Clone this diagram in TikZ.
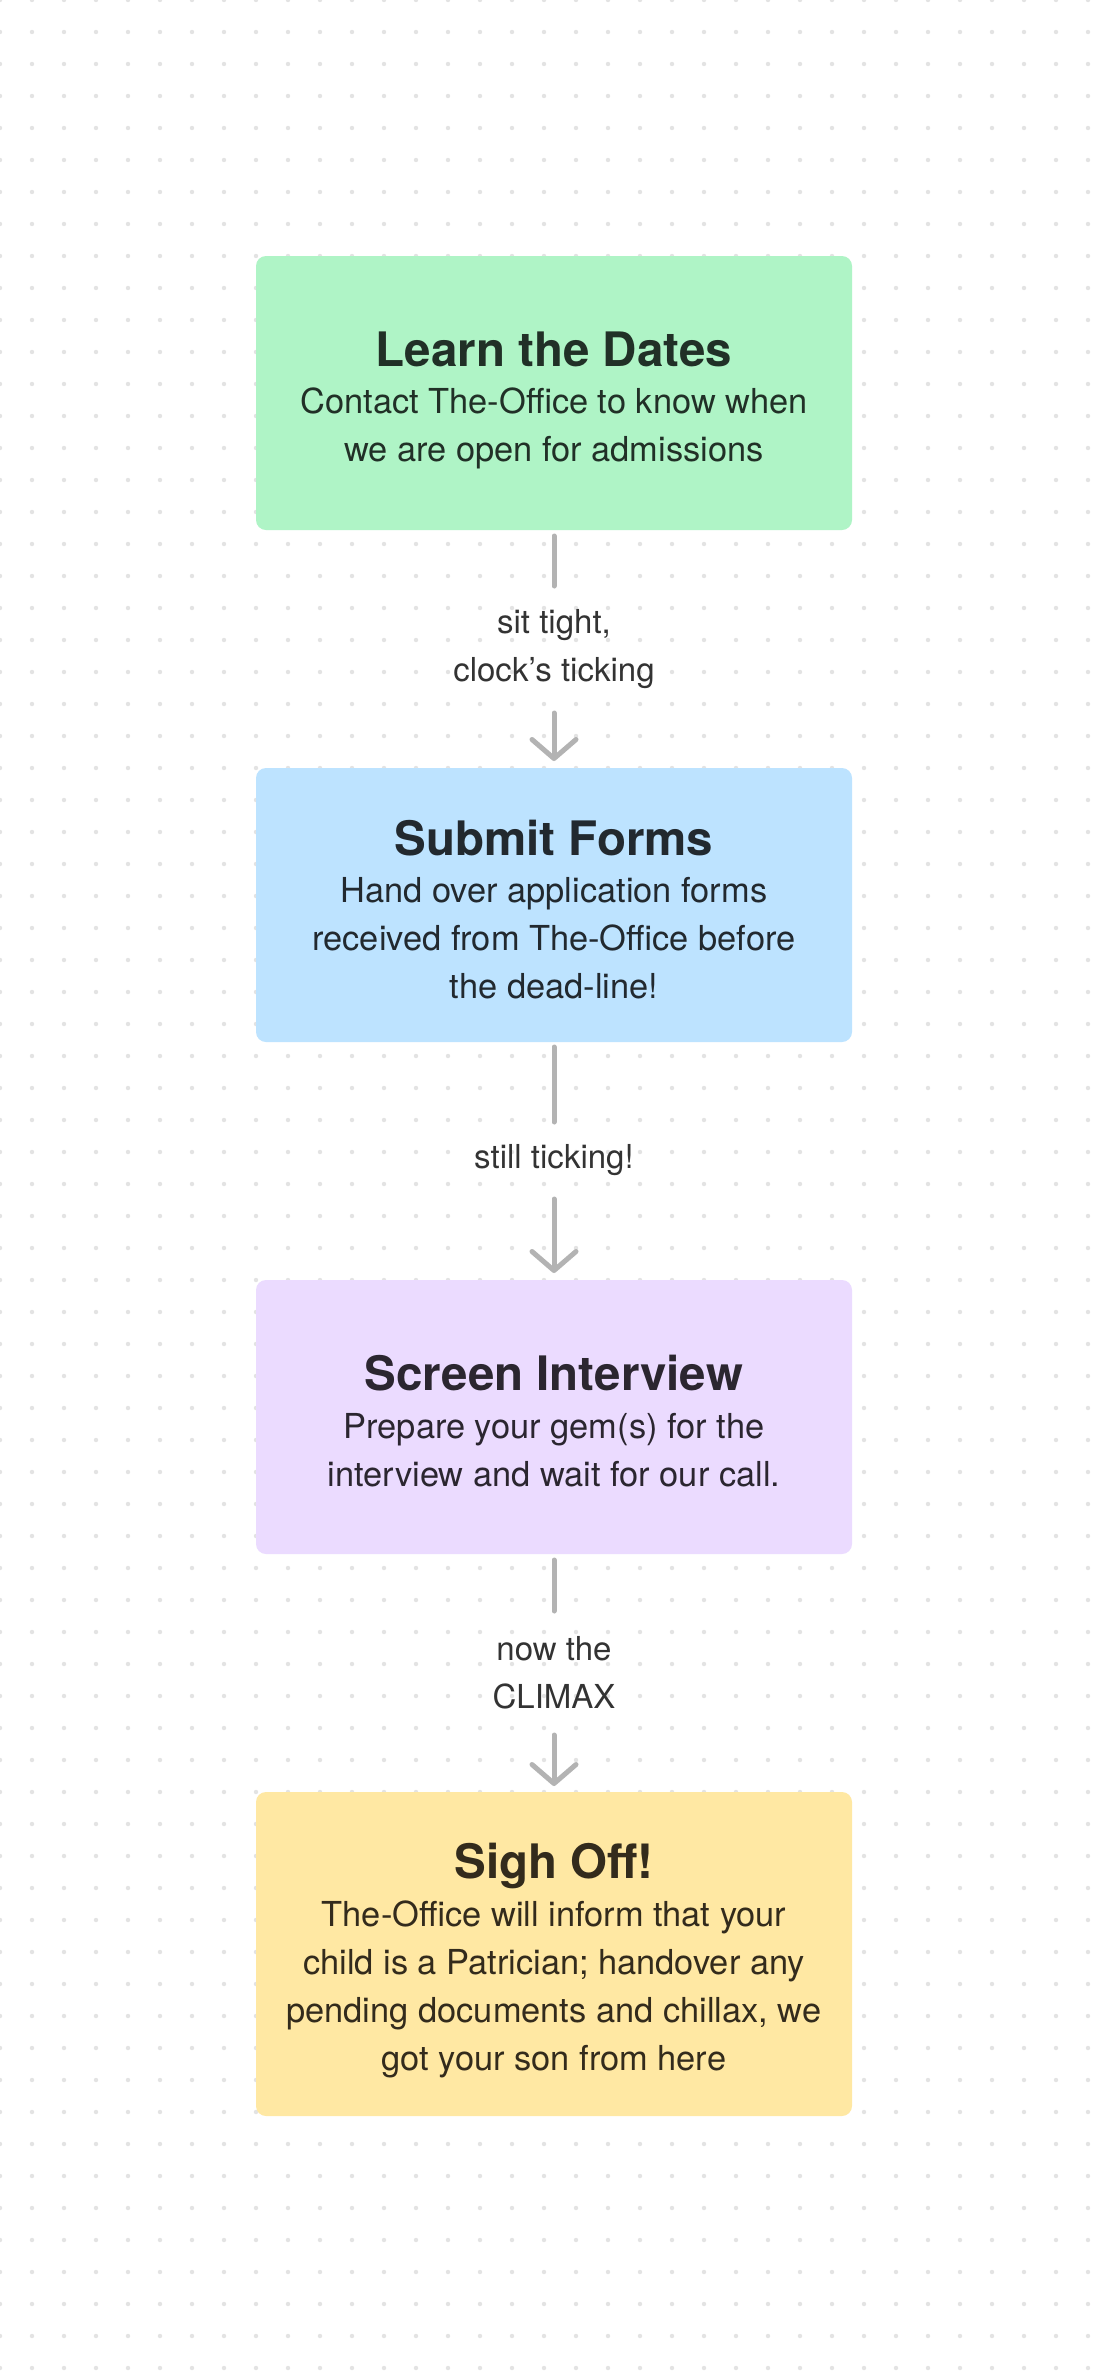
\documentclass[tikz,border=0pt]{standalone}
\usepackage{fontspec}
\setmainfont{TeX Gyre Heros}
\usetikzlibrary{arrows.meta}
\definecolor{dotc}{HTML}{E3E3E3}
\definecolor{greenbox}{HTML}{AFF4C6}
\definecolor{bluebox}{HTML}{BDE3FF}
\definecolor{purplebox}{HTML}{EBDBFF}
\definecolor{yellowbox}{HTML}{FFE8A3}
\definecolor{greentxt}{HTML}{213027}
\definecolor{bluetxt}{HTML}{22292F}
\definecolor{purpletxt}{HTML}{2B2630}
\definecolor{yellowtxt}{HTML}{332B1C}
\definecolor{labtxt}{HTML}{333333}
\definecolor{conncol}{HTML}{B3B3B3}
\begin{document}
\begin{tikzpicture}[x=1pt,y=-1pt,
  box/.style={rectangle, rounded corners=10pt, draw=none, inner sep=0pt, outer sep=0pt,
    minimum width=596pt},
  ttl/.style={anchor=base, inner sep=0pt, font=\fontsize{47.5}{54}\selectfont\bfseries},
  bodytxt/.style={anchor=base, inner sep=0pt, align=center, font=\fontsize{34.4}{48}\selectfont},
  lab/.style={inner sep=0pt, outer sep=0pt, align=center, text=labtxt,
    font=\fontsize{33}{48}\selectfont},
  conn/.style={draw=conncol, line width=5pt, line cap=round},
  tipped/.style={conn, -{Straight Barb[length=19pt, width=44pt, round]}}
]
\useasboundingbox (0,0) rectangle (1108,2372);
\fill[white] (0,0) rectangle (1108,2372);
\foreach \i in {0,...,34} {
  \foreach \j in {0,...,74} {
    \fill[dotc] (\i*32,\j*32) circle (2.2pt);
  }
}
% boxes
\node[box, fill=greenbox,  minimum height=274pt] (b1) at (554,393) {};
\node[box, fill=bluebox,   minimum height=274pt] (b2) at (554,905) {};
\node[box, fill=purplebox, minimum height=274pt] (b3) at (554,1417) {};
\node[box, fill=yellowbox, minimum height=324pt] (b4) at (554,1954) {};
% texts (body nodes anchored at the baseline of their last line)
\node[ttl, text=greentxt] (t1) at (554,366.7) {Learn the Dates};
\node[bodytxt, text=greentxt] (d1) at (554,461.7) {Contact The-Office to know when\\we are open for admissions};
\node[ttl, text=bluetxt] (t2) at (554,855) {Submit Forms};
\node[bodytxt, text=bluetxt] (d2) at (554,998) {Hand over application forms\\received from The-Office before\\the dead-line!};
\node[ttl, text=purpletxt] (t3) at (554,1390) {Screen Interview};
\node[bodytxt, text=purpletxt] (d3) at (554,1486) {Prepare your gem(s) for the\\interview and wait for our call.};
\node[ttl, text=yellowtxt] (t4) at (554,1878) {Sigh Off!};
\node[bodytxt, text=yellowtxt] (d4) at (554,2070) {The-Office will inform that your\\child is a Patrician; handover any\\pending documents and chillax, we\\got your son from here};
% labels
\node[lab, minimum height=127pt] (l1) at (554,649.5) {sit tight,\\clock’s ticking};
\node[lab, minimum height=77pt] (l2) at (554,1160.5) {still ticking!};
\node[lab, minimum height=124pt] (l3) at (554,1673) {now the\\CLIMAX};
% connectors
\draw[conn, shorten <=6pt] (b1.south) -- (l1.north);
\draw[tipped, shorten >=7pt] (l1.south) -- (b2.north);
\draw[conn, shorten <=5pt] (b2.south) -- (l2.north);
\draw[tipped, shorten >=7pt] (l2.south) -- (b3.north);
\draw[conn, shorten <=6pt] (b3.south) -- (l3.north);
\draw[tipped, shorten >=6pt] (l3.south) -- (b4.north);
\end{tikzpicture}
\end{document}
